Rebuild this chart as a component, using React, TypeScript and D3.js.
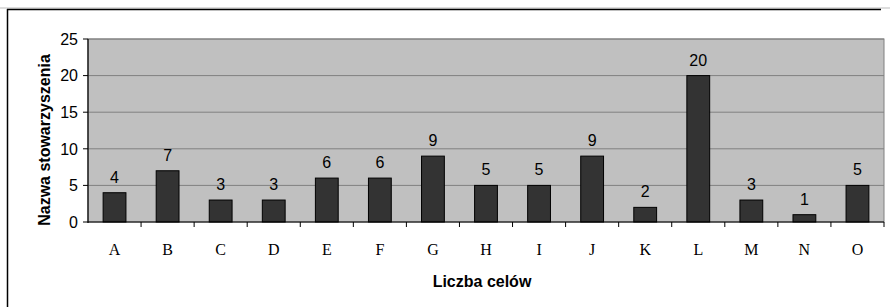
import React from "react";
import * as d3 from "d3";

const categories = ["A", "B", "C", "D", "E", "F", "G", "H", "I", "J", "K", "L", "M", "N", "O"];
const values = [4, 7, 3, 3, 6, 6, 9, 5, 5, 9, 2, 20, 3, 1, 5];
const yTicks = [0, 5, 10, 15, 20, 25];

const W = 890;
const H = 307;
const plot = { left: 88, right: 884, top: 39, bottom: 222 };

export default function App() {
  const x = d3.scaleBand<string>().domain(categories).range([plot.left, plot.right]).paddingInner(0.57).paddingOuter(0.285);
  const xb = d3.scaleBand<string>().domain(categories).range([plot.left, plot.right]);
  const y = d3.scaleLinear().domain([0, 25]).range([plot.bottom, plot.top]);
  const arial = "Arial, 'Liberation Sans', sans-serif";
  const times = "'Times New Roman', 'Liberation Serif', serif";
  return (
    <svg width={W} height={H} style={{ position: "absolute", left: 0, top: 0 }}>
      <rect x={0} y={0} width={W} height={H} fill="#fff" />
      <line x1={0} x2={W} y1={8} y2={8} stroke="#bbb" strokeWidth={1} />
      <line x1={7} x2={881} y1={9.5} y2={9.5} stroke="#000" strokeWidth={1.5} />
      <line x1={7.5} x2={7.5} y1={9} y2={H} stroke="#000" strokeWidth={1.5} />
      <rect x={plot.left} y={plot.top} width={plot.right - plot.left} height={plot.bottom - plot.top} fill="#c0c0c0" stroke="#808080" strokeWidth={1} />
      {yTicks.map((t) => (
        <g key={t}>
          {t > 0 && <line x1={plot.left} x2={plot.right} y1={y(t)} y2={y(t)} stroke="#808080" strokeWidth={1} />}
          <line x1={plot.left - 5} x2={plot.left} y1={y(t)} y2={y(t)} stroke="#000" strokeWidth={1} />
          <text x={78} y={y(t)} dy="0.36em" textAnchor="end" fontFamily={arial} fontSize={16} fill="#000">{t}</text>
        </g>
      ))}
      {categories.map((c, i) => (
        <g key={c}>
          <rect x={x(c)} y={y(values[i])} width={x.bandwidth()} height={plot.bottom - y(values[i])} fill="#333333" stroke="#000" strokeWidth={1} />
          <text x={x(c)! + x.bandwidth() / 2} y={y(values[i]) - 10} textAnchor="middle" fontFamily={arial} fontSize={16} fill="#000">{values[i]}</text>
          <line x1={xb(c)! + xb.bandwidth()} x2={xb(c)! + xb.bandwidth()} y1={plot.bottom} y2={plot.bottom + 5} stroke="#000" strokeWidth={1} />
          <text x={xb(c)! + xb.bandwidth() / 2} y={255} textAnchor="middle" fontFamily={times} fontSize={16} fill="#000">{c}</text>
        </g>
      ))}
      <line x1={plot.left} x2={plot.left} y1={plot.top} y2={plot.bottom + 1} stroke="#000" strokeWidth={1.2} />
      <line x1={plot.left} x2={plot.right} y1={plot.bottom} y2={plot.bottom} stroke="#000" strokeWidth={1.2} />
      <text x={(plot.left + plot.right) / 2 - 4} y={287} textAnchor="middle" fontFamily={arial} fontWeight="bold" fontSize={16} fill="#000">Liczba celów</text>
      <text transform={`translate(50,140) rotate(-90)`} textAnchor="middle" fontFamily={arial} fontWeight="bold" fontSize={16} fill="#000">Nazwa stowarzyszenia</text>
    </svg>
  );
}
